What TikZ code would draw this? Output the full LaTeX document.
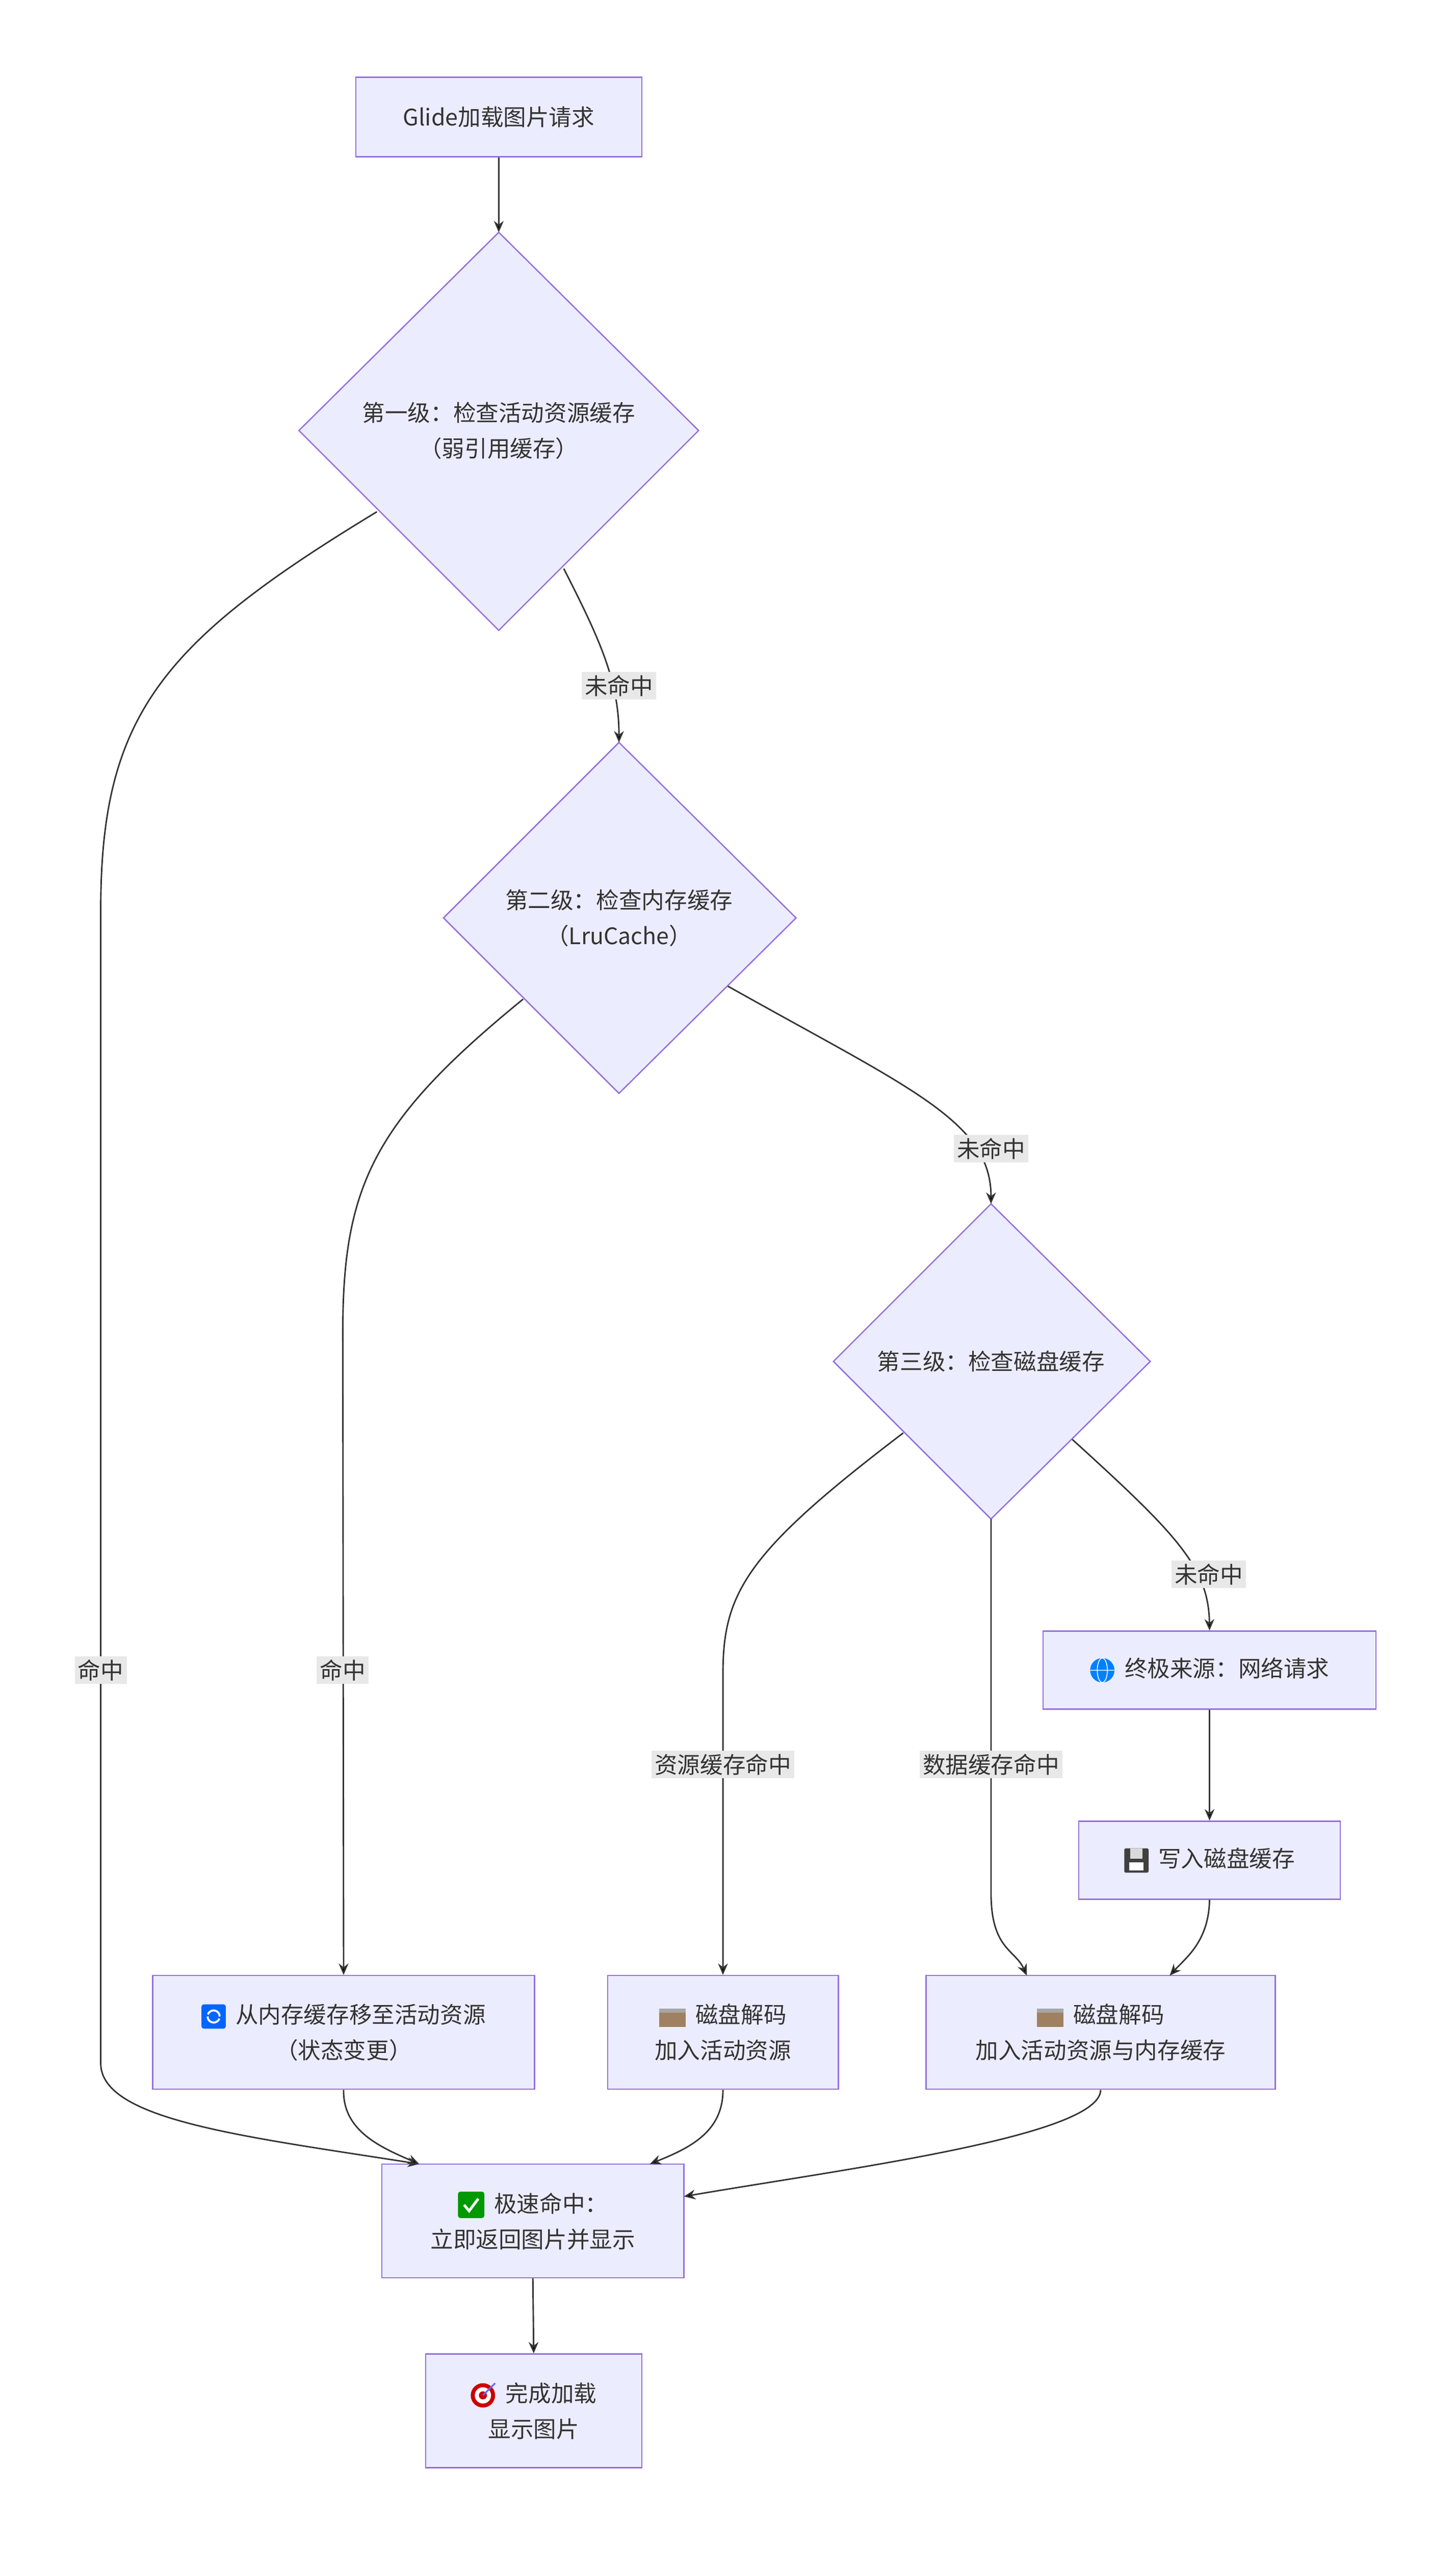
\documentclass[tikz,border=0pt]{standalone}
\usepackage{fontspec}
\setmainfont{Noto Sans CJK SC}
\usetikzlibrary{calc,arrows.meta}
\definecolor{nfill}{HTML}{ECECFF}
\definecolor{nline}{HTML}{9370DB}
\definecolor{eline}{HTML}{333333}
\definecolor{lbg}{HTML}{E8E8E8}
\tikzset{ico/.style={baseline=-4pt,x=1.25pt,y=1.25pt}}
\newcommand{\icoRefresh}{\tikz[ico]{\fill[blue!60!cyan,rounded corners=1.5pt](0,-6)rectangle(12,6);\draw[white,line width=1.2pt](9,0)arc(0:160:3);\draw[white,line width=1.2pt](3,0)arc(180:340:3);}\hspace{6pt}}
\newcommand{\icoFolder}{\tikz[ico]{\fill[gray!70](0,-5)rectangle(13,4);\fill[gray!50!brown](0,-5)rectangle(13,2);}\hspace{6pt}}
\newcommand{\icoCheck}{\tikz[ico]{\fill[green!60!black,rounded corners=1.5pt](0,-6)rectangle(13,7);\draw[white,line width=1.6pt](3,0.5)--(5.5,-2.5)--(10,3.5);}\hspace{6pt}}
\newcommand{\icoTarget}{\tikz[ico]{\fill[red!80!black](6,0)circle(6);\fill[white](6,0)circle(4);\fill[red!80!black](6,0)circle(2);\draw[blue!60,line width=1pt](6,0)--(12,6);}\hspace{6pt}}
\newcommand{\icoGlobe}{\tikz[ico]{\fill[blue!50!cyan](6,0)circle(6);\draw[white,line width=0.5pt](6,0)ellipse(2.5 and 6)(0,0)--(12,0);}\hspace{6pt}}
\newcommand{\icoDisk}{\tikz[ico]{\fill[black!75,rounded corners=1pt](0,-6)rectangle(12,6);\fill[gray!30](3,1)rectangle(9,6);\fill[white](2.5,-5)rectangle(9.5,-1);}\hspace{6pt}}
\begin{document}
\begin{tikzpicture}[x=1pt,y=-1pt,
  box/.style={draw=nline,fill=nfill,line width=0.8pt,text=eline,align=center,inner sep=0pt,font=\fontsize{14}{22}\selectfont},
  txt/.style={text=eline,align=center,font=\fontsize{14}{22}\selectfont},
  lab/.style={fill=lbg,text=eline,inner sep=2pt,font=\fontsize{14}{17}\selectfont},
  e/.style={draw=eline,line width=0.9pt,-{Stealth[length=7pt,width=6pt]}}]
\useasboundingbox[fill=white](0,0)rectangle(896,1569);
\node[box,minimum width=176,minimum height=49] (glide) at (307,72) {Glide加载图片请求};
% diamonds
\coordinate (d1) at (307,265);
\filldraw[draw=nline,fill=nfill,line width=0.8pt] (184,265)--(307,143)--(430,265)--(307,388)--cycle;
\node[txt] (t1) at (d1) {第一级：检查活动资源缓存\\（弱引用缓存）};
\coordinate (d2) at (381,565);
\filldraw[draw=nline,fill=nfill,line width=0.8pt] (273,565)--(381,457)--(490,565)--(381,673)--cycle;
\node[txt] (t2) at (d2) {第二级：检查内存缓存\\（LruCache）};
\coordinate (d3) at (610,838);
\filldraw[draw=nline,fill=nfill,line width=0.8pt] (513,838)--(610,741)--(708,838)--(610,935)--cycle;
\node[txt] (t3) at (d3) {第三级：检查磁盘缓存};
\node[box,minimum width=205,minimum height=48] (net) at (744.5,1028) {\icoGlobe 终极来源：网络请求};
\node[box,minimum width=161,minimum height=48] (wr) at (744.5,1145) {\icoDisk 写入磁盘缓存};
\node[box,minimum width=235,minimum height=70] (mem) at (211.5,1251) {\icoRefresh 从内存缓存移至活动资源\\（状态变更）};
\node[box,minimum width=142,minimum height=70] (dk1) at (445,1251) {\icoFolder 磁盘解码\\加入活动资源};
\node[box,minimum width=215,minimum height=70] (dk2) at (677.5,1251) {\icoFolder 磁盘解码\\加入活动资源与内存缓存};
\node[box,minimum width=186,minimum height=70] (fast) at (328,1367) {\icoCheck 极速命中：\\立即返回图片并显示};
\node[box,minimum width=133,minimum height=70] (done) at (328.5,1484) {\icoTarget 完成加载\\显示图片};
% edges
\draw[e] (glide.south) -- (307,143);
\draw[e] (232,315) .. controls (100,395) and (62,440) .. (62,560) -- (62,1270) .. controls (62,1305) and (150,1315) .. (258,1332);
\draw[e] (347,350) .. controls (370,395) and (381,420) .. (381,457);
\draw[e] (322,615) .. controls (230,690) and (211,730) .. (211,820) -- (mem.north);
\draw[e] (448,607) .. controls (560,670) and (610,690) .. (610,741);
\draw[e] (556,882) .. controls (460,955) and (445,980) .. (445,1030) -- (dk1.north);
\draw[e] (610,935) -- (610,1165) .. controls (610,1200) and (625,1200) .. (632,1216);
\draw[e] (660,886) .. controls (725,945) and (744,965) .. (net.north);
\draw[e] (net.south) -- (wr.north);
\draw[e] (wr.south) .. controls (744,1195) and (730,1205) .. (720,1216);
\draw[e] (mem.south) .. controls (211,1312) and (235,1322) .. (258,1332);
\draw[e] (dk1.south) .. controls (445,1312) and (425,1322) .. (400,1332);
\draw[e] (dk2.south) .. controls (677,1315) and (520,1335) .. (421,1352);
\draw[e] (fast.south) -- (done.north);
% labels
\node[lab] (l1) at (381,422) {未命中};
\node[lab] (l2) at (610,707) {未命中};
\node[lab] (l3) at (744,969) {未命中};
\node[lab] (l4) at (62,1028) {命中};
\node[lab] (l5) at (211,1028) {命中};
\node[lab] (l6) at (445,1086) {资源缓存命中};
\node[lab] (l7) at (610,1086) {数据缓存命中};
\end{tikzpicture}
\end{document}
